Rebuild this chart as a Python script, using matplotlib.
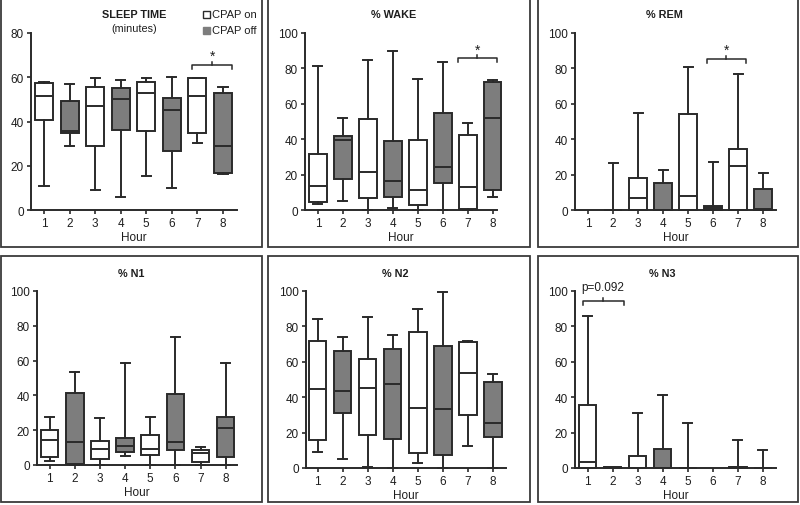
import numpy as np
import matplotlib
matplotlib.use("Agg")
import matplotlib.pyplot as plt
from matplotlib.patches import Rectangle

plt.rcParams['font.family'] = ['Liberation Sans', 'DejaVu Sans']

hours = [1, 2, 3, 4, 5, 6, 7, 8]

# box statistics per panel: (whislo, q1, med, q3, whishi); None = nothing drawn
sleep_time = [(10.9, 40.5, 51.6, 57.2, 58.0), (29.0, 34.9, 35.8, 49.1, 56.9),
              (8.9, 29.0, 47.1, 55.8, 59.6), (6.0, 36.1, 50.0, 55.2, 58.9),
              (15.4, 35.8, 53.1, 58.0, 59.6), (10.0, 26.7, 45.0, 50.6, 59.9),
              (30.2, 34.6, 51.5, 59.5, 59.6), (16.2, 16.5, 29.0, 53.1, 55.4)]
pct_wake = [(3.2, 4.5, 13.6, 31.5, 81.5), (5.1, 17.7, 39.8, 41.7, 51.9),
            (0.0, 6.6, 21.3, 51.3, 84.7), (1.3, 7.4, 16.4, 39.2, 89.6),
            (0.0, 2.8, 11.3, 39.6, 74.0), (0.0, 15.5, 24.5, 54.7, 83.4),
            (0.0, 0.4, 13.0, 42.3, 48.9), (7.5, 11.1, 51.9, 72.1, 73.4)]
pct_rem = [None, (0.0, 0.0, 0.0, 0.0, 26.8),
           (0.0, 0.0, 6.6, 17.9, 54.9), (0.0, 0.0, 0.0, 15.1, 22.5),
           (0.0, 0.0, 7.9, 54.0, 80.6), (0.0, 0.0, 1.0, 2.3, 27.4),
           (0.0, 0.0, 24.9, 34.2, 76.6), (0.0, 0.0, 0.8, 11.7, 20.8)]
pct_n1 = [(2.3, 4.4, 14.6, 20.2, 27.8), (0.0, 0.4, 13.4, 41.3, 53.7),
          (0.0, 3.3, 9.4, 13.6, 27.0), (5.4, 7.5, 10.7, 15.4, 58.9),
          (0.0, 6.0, 9.4, 17.5, 27.8), (0.0, 8.6, 13.0, 40.7, 73.7),
          (0.0, 1.5, 7.1, 8.4, 10.2), (0.0, 4.6, 21.1, 27.8, 58.5)]
pct_n2 = [(9.0, 15.8, 44.6, 71.6, 84.0), (4.9, 31.3, 43.3, 65.9, 74.2),
          (0.5, 18.8, 45.0, 61.6, 85.1), (0.0, 16.2, 47.5, 67.2, 75.3),
          (3.0, 8.3, 33.9, 76.6, 90.0), (0.0, 7.2, 33.3, 68.9, 99.4),
          (12.4, 30.1, 53.9, 71.4, 71.8), (0.0, 17.3, 25.6, 48.4, 53.3)]
pct_n3 = [(0.0, 0.0, 3.2, 35.4, 86.1), (0.0, 0.0, 0.3, 0.6, 0.6),
          (0.0, 0.0, 0.0, 7.0, 30.9), (0.0, 0.0, 0.0, 10.7, 41.1),
          (0.0, 0.0, 0.0, 0.0, 25.2), None,
          (0.0, 0.0, 0.3, 0.6, 15.8), (0.0, 0.0, 0.0, 0.0, 10.0)]

titles = ["SLEEP TIME", "% WAKE", "% REM", "% N1", "% N2", "% N3"]
datasets = [sleep_time, pct_wake, pct_rem, pct_n1, pct_n2, pct_n3]
ymaxes = [80, 100, 100, 100, 100, 100]
yticks = [[0, 20, 40, 60, 80]] + [[0, 20, 40, 60, 80, 100]] * 5

# significance brackets: panel -> (x from, x to, y, label)
brackets = {0: (6.8, 8.35, 65.5, "*"), 1: (6.6, 8.15, 85.7, "*"),
            2: (5.75, 7.32, 85.3, "*"), 5: (0.81, 2.44, 94.2, "p=0.092")}

W, H = 800, 506
# axes geometry in pixels: left, right, bottom (y=0), top (y=max), xlim
geom = [(31, 237, 211, 34, (0.49, 8.55)),
        (305, 497, 211, 34, (0.48, 8.17)),
        (575, 776, 211, 34, (0.48, 8.52)),
        (37, 237, 466, 292, (0.5, 8.45)),
        (306, 506, 469, 292, (0.54, 8.52)),
        (575, 776, 469, 292, (0.5, 8.52))]
frames = [(1, 0, 262, 248), (268, 0, 530, 248), (538, 0, 798, 248),
          (1, 257, 262, 503), (268, 257, 530, 503), (538, 257, 798, 503)]
title_pos = [(134, 15), (394, 15), (664, 15), (131, 274), (395, 274), (662, 274)]

edge = '#2a2a2a'
gray = '#7d7d7d'
txt = '#1e1e1e'
lw = 1.4

fig = plt.figure(figsize=(W / 100, H / 100), dpi=100)
fig.patch.set_facecolor('white')

for i, data in enumerate(datasets):
    l, r, b, t, xl = geom[i]
    ax = fig.add_axes([l / W, 1 - b / H, (r - l) / W, (b - t) / H])
    stats, pos, colors = [], [], []
    for h, v in zip(hours, data):
        if v is None:
            continue
        lo, q1, med, q3, hi = v
        stats.append(dict(whislo=lo, q1=q1, med=med, q3=q3, whishi=hi, fliers=[]))
        pos.append(h)
        colors.append('white' if h % 2 else gray)
    bp = ax.bxp(stats, positions=pos, widths=0.7, capwidths=0.36,
                patch_artist=True, showfliers=False,
                boxprops=dict(edgecolor=edge, linewidth=lw),
                medianprops=dict(color=edge, linewidth=lw),
                whiskerprops=dict(color=edge, linewidth=lw),
                capprops=dict(color=edge, linewidth=lw))
    for patch, c in zip(bp['boxes'], colors):
        patch.set_facecolor(c)
    for art in bp['boxes'] + bp['medians'] + bp['whiskers'] + bp['caps']:
        art.set_clip_on(False)

    ax.set_xlim(*xl)
    ax.set_ylim(0, ymaxes[i])
    ax.set_xticks(hours)
    ax.set_xticklabels([str(h) for h in hours])
    ax.set_yticks(yticks[i])
    ax.tick_params(direction='out', length=3, width=1.2, color=edge,
                   labelsize=8.5, labelcolor=txt, pad=2)
    for s in ['top', 'right']:
        ax.spines[s].set_visible(False)
    for s in ['left', 'bottom']:
        ax.spines[s].set_color(edge)
        ax.spines[s].set_linewidth(lw)
    ax.set_xlabel("Hour", fontsize=8.5, color=txt, labelpad=1.5)
    ax.patch.set_alpha(0)

    if i in brackets:
        x0, x1, y, lab = brackets[i]
        d = ymaxes[i] * 0.022
        xm = (x0 + x1) / 2
        ax.plot([x0, x0, x1, x1], [y - d, y, y, y - d], color=edge, lw=1.1, clip_on=False)
        ax.plot([xm, xm], [y, y + d * 0.9], color=edge, lw=1.1, clip_on=False)
        if lab == "*":
            ax.text(xm, y + d * 0.5, lab, ha='center', va='bottom', fontsize=10,
                    color=txt, clip_on=False)
        else:
            ax.text(xm, y + d * 2.1, lab, ha='center', va='bottom', fontsize=8.5,
                    color=txt, clip_on=False)

# overlay in pixel coordinates for frames, titles and legend
ov = fig.add_axes([0, 0, 1, 1], zorder=-1)
ov.set_xlim(0, W)
ov.set_ylim(H, 0)
ov.axis('off')
for (x0, y0, x1, y1) in frames:
    ov.add_patch(Rectangle((x0, y0), x1 - x0, y1 - y0, fill=False,
                           edgecolor='#3a3a3a', linewidth=1.3))
for (tx, ty), title in zip(title_pos, titles):
    ov.text(tx, ty, title, ha='center', va='center', fontsize=7.8,
            fontweight='bold', color=txt)
ov.text(134, 29, "(minutes)", ha='center', va='center', fontsize=7.8, color=txt)

# legend
ov.add_patch(Rectangle((203, 11.5), 7, 7, facecolor='white', edgecolor=edge, linewidth=1))
ov.add_patch(Rectangle((203, 27.5), 7, 7, facecolor=gray, edgecolor=gray, linewidth=1))
ov.text(212, 15, "CPAP on", ha='left', va='center', fontsize=8, color=txt)
ov.text(212, 31, "CPAP off", ha='left', va='center', fontsize=8, color=txt)

fig.savefig("out.png", dpi=100, facecolor='white')
